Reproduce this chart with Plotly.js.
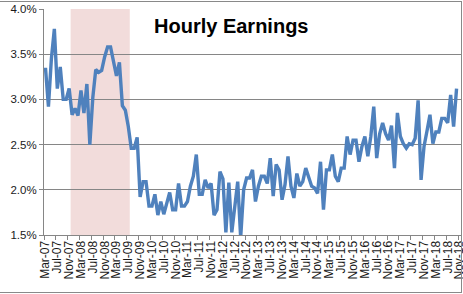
<!DOCTYPE html>
<html><head><meta charset="utf-8">
<script src="https://cdn.plot.ly/plotly-3.0.1.min.js"></script>
<style>
html,body{margin:0;padding:0;background:#fff;}
#wrap{position:relative;width:463px;height:294px;overflow:hidden;}
#chart{width:463px;height:294px;}
#frame{position:absolute;left:-1px;top:1px;width:463px;height:292px;border:1px solid #898989;box-sizing:border-box;pointer-events:none;}
</style>
</head><body>
<div id="wrap"><div id="chart"></div><div id="frame"></div></div>
<script>
const categories = [
"Mar-07","Apr-07","May-07","Jun-07","Jul-07","Aug-07","Sep-07","Oct-07","Nov-07","Dec-07",
"Jan-08","Feb-08","Mar-08","Apr-08","May-08","Jun-08","Jul-08","Aug-08","Sep-08","Oct-08","Nov-08","Dec-08",
"Jan-09","Feb-09","Mar-09","Apr-09","May-09","Jun-09","Jul-09","Aug-09","Sep-09","Oct-09","Nov-09","Dec-09",
"Jan-10","Feb-10","Mar-10","Apr-10","May-10","Jun-10","Jul-10","Aug-10","Sep-10","Oct-10","Nov-10","Dec-10",
"Jan-11","Feb-11","Mar-11","Apr-11","May-11","Jun-11","Jul-11","Aug-11","Sep-11","Oct-11","Nov-11","Dec-11",
"Jan-12","Feb-12","Mar-12","Apr-12","May-12","Jun-12","Jul-12","Aug-12","Sep-12","Oct-12","Nov-12","Dec-12",
"Jan-13","Feb-13","Mar-13","Apr-13","May-13","Jun-13","Jul-13","Aug-13","Sep-13","Oct-13","Nov-13","Dec-13",
"Jan-14","Feb-14","Mar-14","Apr-14","May-14","Jun-14","Jul-14","Aug-14","Sep-14","Oct-14","Nov-14","Dec-14",
"Jan-15","Feb-15","Mar-15","Apr-15","May-15","Jun-15","Jul-15","Aug-15","Sep-15","Oct-15","Nov-15","Dec-15",
"Jan-16","Feb-16","Mar-16","Apr-16","May-16","Jun-16","Jul-16","Aug-16","Sep-16","Oct-16","Nov-16","Dec-16",
"Jan-17","Feb-17","Mar-17","Apr-17","May-17","Jun-17","Jul-17","Aug-17","Sep-17","Oct-17","Nov-17","Dec-17",
"Jan-18","Feb-18","Mar-18","Apr-18","May-18","Jun-18","Jul-18","Aug-18","Sep-18","Oct-18","Nov-18"
];

// Hourly earnings, % y/y, by year (2007 starts Mar, 2018 ends Oct)
const y2007 = [3.35, 2.92, 3.45, 3.78, 3.12, 3.36, 3.00, 3.00, 3.12, 2.83];
const y2008 = [2.90, 2.82, 3.10, 2.85, 3.17, 2.50, 3.02, 3.33, 3.30, 3.32, 3.47, 3.58];
const y2009 = [3.58, 3.43, 3.26, 3.41, 2.93, 2.88, 2.70, 2.46, 2.46, 2.58, 1.92, 2.09];
const y2010 = [2.09, 1.82, 1.82, 1.95, 1.72, 1.87, 1.73, 1.85, 1.97, 1.78, 1.78, 2.07];
const y2011 = [1.82, 1.82, 1.87, 2.04, 2.15, 2.39, 1.95, 1.95, 2.11, 2.02, 2.07, 1.72];
const y2012 = [1.78, 2.20, 2.12, 1.53, 2.08, 1.53, 1.80, 2.09, 1.47, 2.00, 2.13, 2.13];
const y2013 = [2.22, 1.87, 2.04, 2.15, 2.15, 2.07, 2.35, 1.93, 2.28, 2.22, 1.89, 2.06];
const y2014 = [2.37, 2.04, 1.91, 2.18, 2.04, 2.09, 2.24, 2.15, 2.04, 2.02, 1.96, 2.31];
const y2015 = [1.78, 2.22, 2.22, 2.39, 2.15, 2.09, 2.24, 2.24, 2.59, 2.39, 2.55, 2.55];
const y2016 = [2.31, 2.48, 2.59, 2.37, 2.59, 2.92, 2.35, 2.62, 2.74, 2.62, 2.55, 2.71];
const y2017 = [2.24, 2.85, 2.59, 2.51, 2.46, 2.51, 2.50, 2.57, 2.99, 2.11, 2.48, 2.65];
const y2018 = [2.83, 2.51, 2.64, 2.64, 2.79, 2.79, 2.74, 3.05, 2.70, 3.12];

const recessionStart = "Dec-07";
const recessionEnd = "Jul-09";
const titleText = "Hourly Earnings";
const yTicks = [1.5, 2.0, 2.5, 3.0, 3.5, 4.0];

const values = [].concat(y2007, y2008, y2009, y2010, y2011, y2012, y2013, y2014, y2015, y2016, y2017, y2018);

const trace = {
  type: 'scatter', mode: 'lines',
  x: categories.slice(0, values.length), y: values,
  line: {color: '#4F81BD', width: 3.4, shape: 'linear'},
  hoverinfo: 'x+y'
};

const gridCol = '#868686';
const layout = {
  width: 463, height: 294,
  margin: {l: 44, r: 2, t: 9, b: 59, pad: 0},
  paper_bgcolor: '#ffffff', plot_bgcolor: '#ffffff',
  showlegend: false,
  font: {family: 'Liberation Sans, Arial, sans-serif', color: '#1a1a1a'},
  xaxis: {
    type: 'category', categoryorder: 'array', categoryarray: categories,
    range: [-0.5, categories.length - 0.5],
    tickmode: 'linear', tick0: 0, dtick: 4,
    tickson: 'boundaries',
    ticks: 'outside', ticklen: 4, tickcolor: gridCol, tickwidth: 1,
    showline: true, linecolor: gridCol, linewidth: 1,
    showgrid: false, zeroline: false,
    tickangle: -90,
    tickfont: {size: 12, color: '#1a1a1a'}
  },
  yaxis: {
    range: [1.5, 4.0], tickmode: 'array', tickvals: yTicks,
    ticktext: yTicks.map(v => v.toFixed(1) + '%'),
    ticks: 'outside', ticklen: 4, tickcolor: gridCol, tickwidth: 1,
    showline: true, linecolor: gridCol, linewidth: 1,
    showgrid: true, gridcolor: gridCol, gridwidth: 1, zeroline: false,
    tickfont: {size: 11.5, color: '#1a1a1a'}
  },
  shapes: [{
    type: 'rect', xref: 'x', yref: 'paper',
    x0: categories.indexOf(recessionStart) - 0.5,
    x1: categories.indexOf(recessionEnd) + 0.5,
    y0: 0, y1: 1,
    fillcolor: '#F2DCDB', line: {width: 0}, layer: 'between'
  }],
  annotations: [{
    text: '<b>' + titleText + '</b>',
    xref: 'paper', yref: 'paper', x: 0.448, y: 0.925,
    xanchor: 'center', yanchor: 'middle', showarrow: false,
    font: {family: 'Liberation Sans, Arial, sans-serif', size: 20, color: '#000'}
  }]
};

Plotly.newPlot('chart', [trace], layout, {displayModeBar: false, staticPlot: true});
</script>
</body></html>
